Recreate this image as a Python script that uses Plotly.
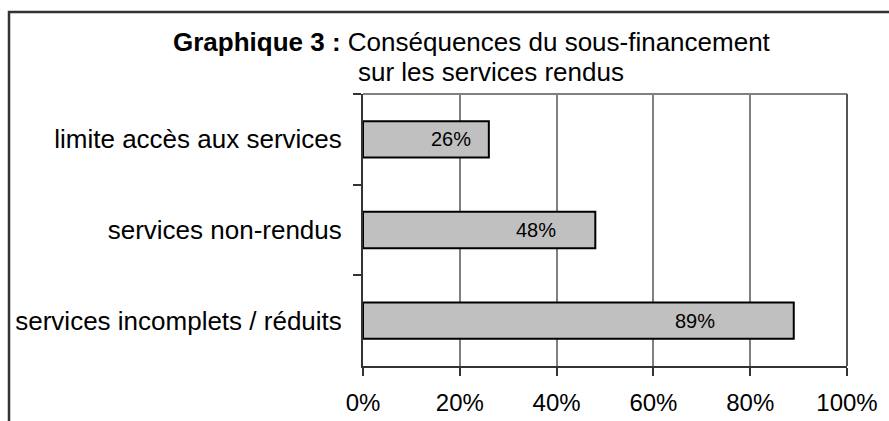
import plotly.graph_objects as go

categories = ["limite accès aux services", "services non-rendus", "services incomplets / réduits"]
values = [26, 48, 89]
labels = ["26%", "48%", "89%"]
x_ticks = [0, 20, 40, 60, 80, 100]
x_ticklabels = ["0%", "20%", "40%", "60%", "80%", "100%"]

W, H = 889, 421
L, R, T, B = 363, 42, 94, 55
pw, ph = W - L - R, H - T - B
FAM = "Liberation Sans, Arial"


def px(X):
    return (X - L) / pw


def py(Y):
    return (H - B - Y) / ph


fig = go.Figure()
fig.add_trace(go.Bar(
    x=values, y=categories, orientation="h",
    marker=dict(color="#c0c0c0", line=dict(color="black", width=2)),
    hoverinfo="skip", showlegend=False,
))

tick_font = dict(family=FAM, size=24, color="black")
cat_font = dict(family=FAM, size=26, color="black")

annotations = [
    dict(xref="paper", yref="paper", x=px(171), y=py(42), xanchor="left", yanchor="middle",
         text="<b>Graphique 3 :</b> Conséquences du sous-financement", showarrow=False,
         font=dict(family=FAM, size=26, color="black")),
    dict(xref="paper", yref="paper", x=px(356), y=py(72), xanchor="left", yanchor="middle",
         text="sur les services rendus", showarrow=False,
         font=dict(family=FAM, size=26, color="black")),
]
# value labels inside bars, toward the end
for c, v, t in zip(categories, values, labels):
    annotations.append(dict(x=v * 0.8 - 2.7, y=c, xref="x", yref="y", text=t, showarrow=False,
                            font=dict(family=FAM, size=20, color="black")))

fig.update_layout(
    width=W, height=H,
    margin=dict(l=L, r=R, t=T, b=B),
    paper_bgcolor="white", plot_bgcolor="white",
    bargap=0.6,
    xaxis=dict(range=[0, 100], tickvals=x_ticks, ticktext=x_ticklabels, automargin=False,
               showgrid=True, gridcolor="#808080", gridwidth=1.5,
               ticks="outside", ticklen=8, tickcolor="#333333", tickwidth=1.5,
               showline=True, linecolor="#333333", linewidth=2,
               zeroline=False, tickfont=tick_font, ticklabelstandoff=6, fixedrange=True),
    yaxis=dict(categoryorder="array", categoryarray=categories, autorange="reversed", automargin=False,
               tickson="boundaries", ticks="outside", ticklen=8, tickcolor="#333333", tickwidth=1.5,
               showline=True, linecolor="#333333", linewidth=2,
               showgrid=False, tickfont=cat_font, ticklabelstandoff=14, fixedrange=True),
    shapes=[
        dict(type="line", xref="paper", yref="paper", x0=0, x1=1, y0=1, y1=1,
             line=dict(color="#808080", width=2)),
        dict(type="line", xref="paper", yref="paper", x0=1, x1=1, y0=0, y1=1,
             line=dict(color="#555555", width=2)),
        dict(type="rect", xref="paper", yref="paper", x0=px(9), x1=px(900), y0=py(440), y1=py(12),
             line=dict(color="#333333", width=2.5), fillcolor="rgba(0,0,0,0)", layer="above"),
    ],
    annotations=annotations,
)

fig.write_html("out.html", config={"displayModeBar": False},
               post_script="document.body.style.margin='0';document.body.style.overflow='hidden';")
